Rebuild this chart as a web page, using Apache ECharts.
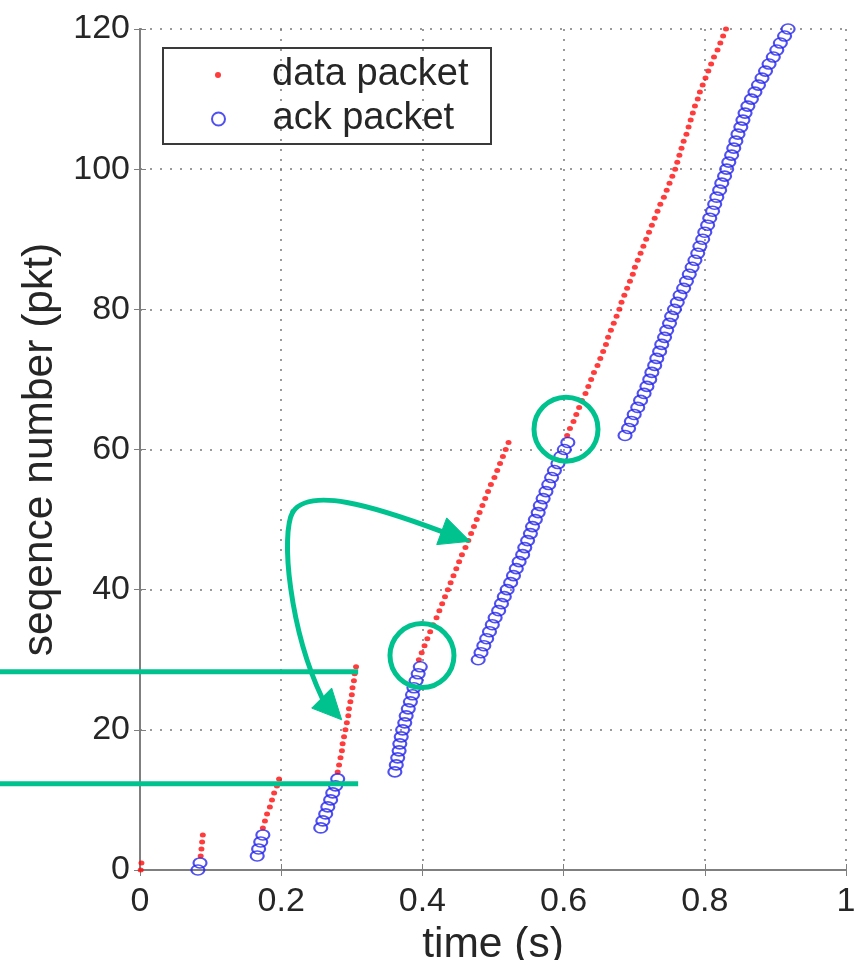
<!DOCTYPE html>
<html>
<head>
<meta charset="utf-8">
<script src="https://cdn.jsdelivr.net/npm/echarts@6/dist/echarts.min.js"></script>
<style>
  html, body { margin: 0; padding: 0; background: #fff; }
  #chart { width: 861px; height: 960px; }
</style>
</head>
<body>
<div id="chart"></div>
<script>
// data packets: send time (s) and sequence number (pkt)
const dataTime = [
  0.001, 0.002,
  0.086, 0.087, 0.088, 0.089,
  0.174, 0.177, 0.180, 0.184, 0.187, 0.190, 0.194, 0.197,
  0.280, 0.282, 0.284, 0.286, 0.287, 0.289, 0.291, 0.293, 0.295, 0.296, 0.298, 0.300, 0.301, 0.303, 0.304, 0.306,
  0.395, 0.399, 0.403, 0.407, 0.411, 0.415, 0.420, 0.424, 0.428, 0.432,
  0.436, 0.440, 0.444, 0.448, 0.452, 0.456, 0.461, 0.465, 0.469, 0.473,
  0.477, 0.481, 0.485, 0.489, 0.493, 0.497, 0.502, 0.506, 0.510, 0.514,
  0.518, 0.522,
  0.605, 0.609, 0.614, 0.618, 0.622, 0.626, 0.631, 0.635, 0.639, 0.643,
  0.648, 0.652, 0.656, 0.660, 0.663, 0.667, 0.671, 0.675, 0.679, 0.682,
  0.686, 0.690, 0.694, 0.698, 0.701, 0.705, 0.709, 0.713, 0.717, 0.721,
  0.725, 0.729, 0.733, 0.737, 0.742, 0.746, 0.750, 0.754, 0.758, 0.761,
  0.764, 0.767, 0.770, 0.774, 0.777, 0.780, 0.783, 0.786, 0.790, 0.793,
  0.797, 0.801, 0.805, 0.809, 0.813, 0.818, 0.822, 0.826, 0.830
]
const dataSeq = [
  0, 1,
  2, 3, 4, 5,
  6, 7, 8, 9, 10, 11, 12, 13,
  14, 15, 16, 17, 18, 19, 20, 21, 22, 23, 24, 25, 26, 27, 28, 29,
  30, 31, 32, 33, 34, 35, 36, 37, 38, 39,
  40, 41, 42, 43, 44, 45, 46, 47, 48, 49,
  50, 51, 52, 53, 54, 55, 56, 57, 58, 59,
  60, 61,
  62, 63, 64, 65, 66, 67, 68, 69, 70, 71,
  72, 73, 74, 75, 76, 77, 78, 79, 80, 81,
  82, 83, 84, 85, 86, 87, 88, 89, 90, 91,
  92, 93, 94, 95, 96, 97, 98, 99, 100, 101,
  102, 103, 104, 105, 106, 107, 108, 109, 110, 111,
  112, 113, 114, 115, 116, 117, 118, 119, 120
]

// ack packets: arrival time (s) and sequence number (pkt)
const ackTime = [
  0.082, 0.085,
  0.166, 0.168, 0.171, 0.174,
  0.256, 0.259, 0.263, 0.266, 0.270, 0.273, 0.277, 0.280,
  0.361, 0.363, 0.365, 0.367, 0.368, 0.370, 0.372, 0.375, 0.377, 0.380, 0.383, 0.386, 0.388, 0.391, 0.394, 0.397,
  0.479, 0.483, 0.487, 0.491, 0.495, 0.499, 0.503, 0.508, 0.512, 0.516,
  0.520, 0.525, 0.529, 0.533, 0.537, 0.542, 0.545, 0.549, 0.553, 0.556,
  0.560, 0.564, 0.567, 0.571, 0.575, 0.579, 0.583, 0.587, 0.592, 0.596,
  0.601, 0.606,
  0.687, 0.692, 0.696, 0.700, 0.705, 0.709, 0.714, 0.718, 0.722, 0.725,
  0.729, 0.732, 0.736, 0.739, 0.743, 0.746, 0.750, 0.753, 0.757, 0.761,
  0.765, 0.770, 0.774, 0.778, 0.782, 0.786, 0.790, 0.793, 0.797, 0.800,
  0.804, 0.807, 0.811, 0.814, 0.817, 0.821, 0.824, 0.828, 0.831, 0.834,
  0.838, 0.841, 0.844, 0.847, 0.851, 0.854, 0.857, 0.861, 0.866, 0.871,
  0.876, 0.881, 0.886, 0.891, 0.897, 0.902, 0.907, 0.913, 0.918
]
const ackSeq = dataSeq.slice()

const seriesNames = ['data packet', 'ack packet']
const xTicks = { min: 0, max: 1, interval: 0.2 }
const yTicks = { min: 0, max: 120, interval: 20 }

// green overlay notes, in data units (time, seq)
const noteLevels = [28.3, 12.3]
const noteLineEnd = 0.309
const noteCircles = [[0.3994, 30.6], [0.6034, 62.9]]
const noteCurve = [
  [[0.4278, 48.29], [0.3258, 52.14], [0.2408, 54.57], [0.2167, 51.14]],
  [[0.2167, 51.14], [0.1983, 47.86], [0.2125, 34.29], [0.2578, 24.57]]
]
const noteHeads = [
  [[0.2432, 23.1], [0.2715, 25.96], [0.2857, 21.43]],
  [[0.4203, 46.43], [0.4344, 50.24], [0.4674, 46.9]]
]

const GREEN = '#00c28e'
const FRAME = '#7f7f7f'
const TEXT = '#262626'
const FONT = '"Liberation Sans", Arial, Helvetica, sans-serif'

const chart = echarts.init(document.getElementById('chart'))

const gridDots = { show: true, lineStyle: { color: '#7a7a7a', width: 1.5, type: [2, 8] } }
const legendText = { fontSize: 38, color: TEXT, fontFamily: FONT, lineHeight: 44 }

const option = {
  animation: false,
  backgroundColor: '#fff',
  textStyle: { fontFamily: FONT },
  grid: { left: 140, right: 15, top: 29, bottom: 90, outerBoundsMode: 'none' },
  legend: [
    {
      data: [seriesNames[0]],
      left: 215, top: 53, padding: 0,
      itemWidth: 98, itemHeight: 6,
      selectedMode: false,
      textStyle: legendText
    },
    {
      data: [seriesNames[1]],
      left: 211, top: 97, padding: 0,
      itemWidth: 98, itemHeight: 13,
      selectedMode: false,
      textStyle: legendText
    }
  ],
  xAxis: [
    {
      type: 'value', position: 'bottom',
      min: xTicks.min, max: xTicks.max, interval: xTicks.interval,
      name: 'time (s)', nameLocation: 'middle', nameGap: 50,
      nameTextStyle: { fontSize: 42.5, color: TEXT, fontFamily: FONT },
      axisLine: { show: true, lineStyle: { color: FRAME, width: 2 } },
      axisTick: { show: true, inside: true, length: 6, lineStyle: { color: FRAME } },
      axisLabel: { fontSize: 34, color: TEXT, margin: 15, fontFamily: FONT },
      splitLine: gridDots
    },
    {
      type: 'value', position: 'top',
      min: xTicks.min, max: xTicks.max, interval: xTicks.interval,
      axisLine: { show: true, lineStyle: { color: FRAME, width: 2 } },
      axisTick: { show: true, inside: true, length: 6, lineStyle: { color: FRAME } },
      axisLabel: { show: false },
      splitLine: { show: false }
    }
  ],
  yAxis: [
    {
      type: 'value', position: 'left',
      min: yTicks.min, max: yTicks.max, interval: yTicks.interval,
      name: 'seqence number (pkt)', nameLocation: 'middle', nameGap: 78,
      nameTextStyle: { fontSize: 42.5, color: TEXT, fontFamily: FONT },
      axisLine: { show: true, lineStyle: { color: FRAME, width: 2 } },
      axisTick: { show: true, inside: true, length: 6, lineStyle: { color: FRAME } },
      axisLabel: { fontSize: 34, color: TEXT, margin: 10, fontFamily: FONT },
      splitLine: gridDots
    },
    {
      type: 'value', position: 'right',
      min: yTicks.min, max: yTicks.max, interval: yTicks.interval,
      axisLine: { show: true, lineStyle: { color: FRAME, width: 2 } },
      axisTick: { show: true, inside: true, length: 6, lineStyle: { color: FRAME } },
      axisLabel: { show: false },
      splitLine: { show: false }
    }
  ],
  series: [
    {
      name: seriesNames[0],
      type: 'scatter',
      symbol: 'circle',
      symbolSize: [6, 5],
      itemStyle: { color: '#ff0a0a' },
      data: dataTime.map((t, i) => [t, dataSeq[i]])
    },
    {
      name: seriesNames[1],
      type: 'scatter',
      symbol: 'circle',
      symbolSize: [13, 10],
      itemStyle: { color: 'rgba(0,0,0,0)', borderColor: '#2424ee', borderWidth: 1.9 },
      data: ackTime.map((t, i) => [t, ackSeq[i]])
    }
  ]
}

chart.setOption(option)

// legend frame and green notes, placed through the chart's own axes
function drawNotes() {
  const px = (p) => chart.convertToPixel({ seriesIndex: 0 }, p)
  const graphic = []
  graphic.push({
    type: 'rect', z: 90, silent: true,
    shape: { x: 163, y: 48, width: 328, height: 96 },
    style: { fill: 'none', stroke: '#3a3a3a', lineWidth: 2 }
  })
  noteLevels.forEach((lv) => {
    const a = px([noteLineEnd, lv])
    graphic.push({
      type: 'line', z: 100, silent: true,
      shape: { x1: 0, y1: a[1], x2: a[0], y2: a[1] },
      style: { stroke: GREEN, lineWidth: 5 }
    })
  })
  noteCircles.forEach((c) => {
    const a = px(c)
    graphic.push({
      type: 'circle', z: 100, silent: true,
      shape: { cx: a[0], cy: a[1], r: 32 },
      style: { fill: 'none', stroke: GREEN, lineWidth: 5 }
    })
  })
  noteCurve.forEach((seg) => {
    const p = seg.map(px)
    graphic.push({
      type: 'bezierCurve', z: 100, silent: true,
      shape: {
        x1: p[0][0], y1: p[0][1],
        cpx1: p[1][0], cpy1: p[1][1],
        cpx2: p[2][0], cpy2: p[2][1],
        x2: p[3][0], y2: p[3][1]
      },
      style: { fill: 'none', stroke: GREEN, lineWidth: 5, lineCap: 'round' }
    })
  })
  noteHeads.forEach((h) => {
    graphic.push({
      type: 'polygon', z: 100, silent: true,
      shape: { points: h.map(px) },
      style: { fill: GREEN, stroke: GREEN, lineWidth: 1 }
    })
  })
  chart.setOption({ graphic })
}

drawNotes()
</script>
</body>
</html>
